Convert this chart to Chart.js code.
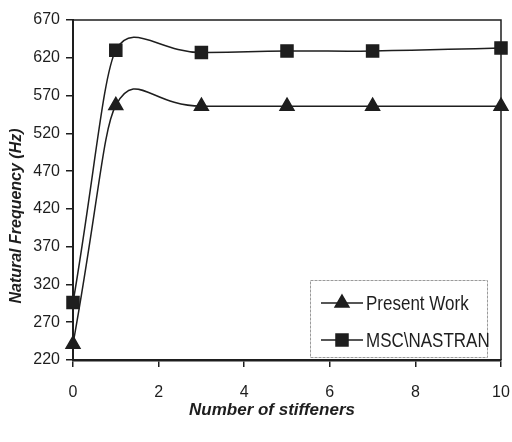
<!DOCTYPE html>
<html>
<head>
<meta charset="utf-8">
<script src="https://cdn.jsdelivr.net/npm/chart.js@4/dist/chart.umd.min.js"></script>
<style>
  body { margin: 0; background: #fff; }
  canvas { display: block; }
</style>
</head>
<body>
<canvas id="freqChart" width="512" height="442"></canvas>
<script>
// number of stiffeners on the x axis
const stiffeners = [0, 1, 3, 5, 7, 10];
// natural frequency in Hz
const presentWork = [241, 557, 556, 556, 556, 556];
const mscNastran = [296, 630, 627, 629, 629, 633];

const xTicks = [0, 2, 4, 6, 8, 10];
const yMin = 220, yMax = 670, yStep = 50;

const ink = '#1e1e1e';

function toPoints(values) {
    return stiffeners.map((x, i) => ({ x: x, y: values[i] }));
}

// the old spreadsheet smoothing rises almost straight from 0 to 1,
// so shorten the incoming handle at the second point (same direction)
const smoothPlugin = {
    id: 'smooth',
    beforeDatasetsDraw(chart) {
        chart.getSortedVisibleDatasetMetas().forEach(meta => {
            const line = meta.dataset;
            const pts = meta.data;
            if (!line || pts.length < 3) return;
            line.updateControlPoints(chart.chartArea, 'x');
            const p0 = pts[0], p1 = pts[1], p2 = pts[2];
            const k = 0.1;
            p1.cp1x = p1.x - k * (p2.x - p0.x);
            p1.cp1y = p1.y - k * (p2.y - p0.y);
            line._path = undefined;
        });
    }
};

// box round the plot, axis titles and the framed legend
const framePlugin = {
    id: 'frame',
    afterDraw(chart) {
        const ctx = chart.ctx;
        const a = chart.chartArea;
        ctx.save();
        ctx.strokeStyle = ink;
        ctx.lineWidth = 1.5;
        ctx.beginPath();
        ctx.moveTo(a.left, a.top);
        ctx.lineTo(a.right, a.top);
        ctx.lineTo(a.right, a.bottom);
        ctx.stroke();

        ctx.fillStyle = ink;
        ctx.font = 'italic bold 17px "Liberation Sans", Arial, sans-serif';
        ctx.textAlign = 'center';
        ctx.textBaseline = 'middle';
        ctx.fillText('Number of stiffeners', 272, 410);
        ctx.save();
        ctx.translate(17, 216);
        ctx.rotate(-Math.PI / 2);
        ctx.font = 'italic bold 16px "Liberation Sans", Arial, sans-serif';
        ctx.fillText('Natural Frequency (Hz)', 0, 0);
        ctx.restore();

        // legend
        ctx.strokeStyle = '#9a9a9a';
        ctx.lineWidth = 1;
        ctx.setLineDash([3, 1]);
        ctx.strokeRect(310.5, 280.5, 177, 77);
        ctx.setLineDash([]);
        ctx.font = '20px "Liberation Sans", Arial, sans-serif';
        ctx.textAlign = 'left';
        const rows = [303, 340];
        chart.data.datasets.forEach((ds, i) => {
            const y = rows[i];
            ctx.strokeStyle = ink;
            ctx.lineWidth = 1.5;
            ctx.beginPath();
            ctx.moveTo(321, y);
            ctx.lineTo(363, y);
            ctx.stroke();
            ctx.fillStyle = ink;
            Chart.helpers.drawPoint(ctx, {
                pointStyle: ds.pointStyle,
                radius: ds.pointRadius,
                rotation: 0,
                borderWidth: 1
            }, 342, y);
            // condensed look of the original legend text
            ctx.save();
            ctx.translate(366, y + 1);
            ctx.scale(0.85, 1);
            ctx.fillStyle = ink;
            ctx.fillText(ds.label, 0, 0);
            ctx.restore();
        });
        ctx.restore();
    }
};

new Chart(document.getElementById('freqChart').getContext('2d'), {
    type: 'line',
    data: {
        datasets: [{
            label: 'Present Work',
            data: toPoints(presentWork),
            borderColor: ink,
            borderWidth: 1.5,
            backgroundColor: ink,
            pointStyle: 'triangle',
            pointRadius: 8,
            pointBackgroundColor: ink,
            pointBorderColor: ink,
            tension: 0.6,
            fill: false
        }, {
            label: 'MSC\\NASTRAN',
            data: toPoints(mscNastran),
            borderColor: ink,
            borderWidth: 1.5,
            backgroundColor: ink,
            pointStyle: 'rect',
            pointRadius: 8.5,
            pointBackgroundColor: ink,
            pointBorderColor: ink,
            tension: 0.5,
            fill: false
        }]
    },
    options: {
        responsive: false,
        animation: false,
        clip: false,
        layout: { padding: { left: 0, top: 20, right: 11, bottom: 0 } },
        plugins: {
            legend: { display: false },
            tooltip: { enabled: false }
        },
        scales: {
            x: {
                type: 'linear',
                min: 0,
                max: 10,
                afterFit(scale) {
                    scale.height = 82;
                    scale.paddingLeft = 0;
                    scale.paddingRight = 0;
                },
                afterBuildTicks(scale) { scale.ticks = xTicks.map(v => ({ value: v })); },
                ticks: {
                    color: ink,
                    font: { family: '"Liberation Sans", Arial, sans-serif', size: 16 },
                    padding: 16,
                    maxRotation: 0
                },
                grid: {
                    drawOnChartArea: false,
                    drawTicks: true,
                    tickLength: 7,
                    color: ink,
                    lineWidth: 1.5
                },
                border: { display: true, color: ink, width: 2.5 }
            },
            y: {
                type: 'linear',
                min: yMin,
                max: yMax,
                afterFit(scale) { scale.width = 73; },
                ticks: {
                    stepSize: yStep,
                    color: ink,
                    font: { family: '"Liberation Sans", Arial, sans-serif', size: 16 },
                    padding: 6
                },
                grid: {
                    drawOnChartArea: false,
                    drawTicks: true,
                    tickLength: 7,
                    color: ink,
                    lineWidth: 1.5
                },
                border: { display: true, color: ink, width: 2 }
            }
        }
    },
    plugins: [smoothPlugin, framePlugin]
});
</script>
</body>
</html>
